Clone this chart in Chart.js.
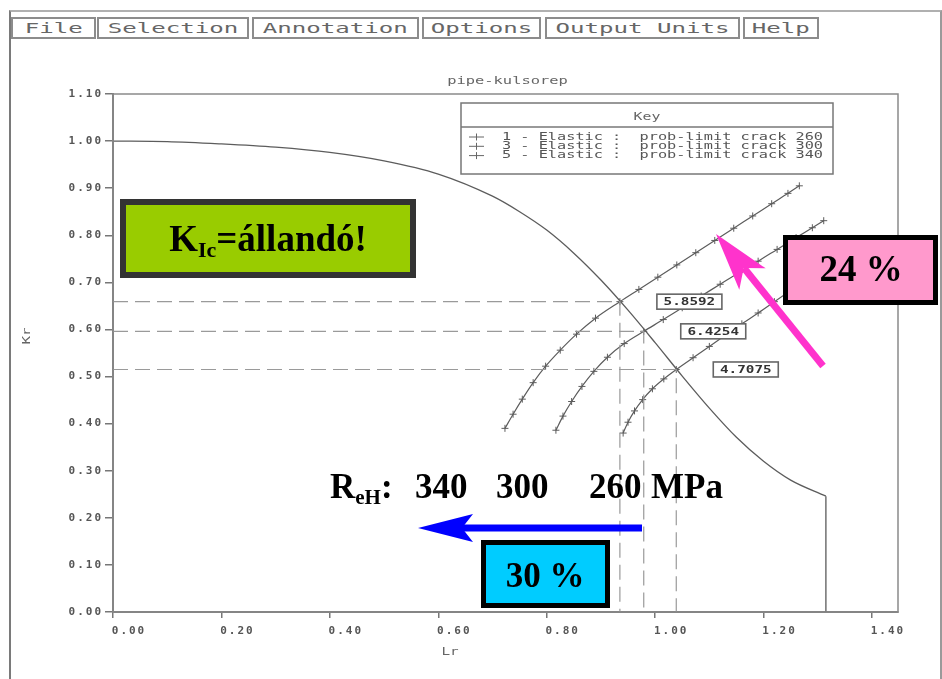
<!DOCTYPE html>
<html>
<head>
<meta charset="utf-8">
<script src="https://cdn.jsdelivr.net/npm/chart.js@4/dist/chart.umd.min.js"></script>
<style>
  html, body { margin: 0; padding: 0; background: #fff; }
  #wrap { position: relative; width: 942px; height: 679px; overflow: hidden; background: #fff; }
  #frame { position: absolute; left: 9px; top: 10px; width: 929px; height: 700px;
           border-left: 2px solid #7a7a7a; border-top: 2px solid #b0b0b0; border-right: 2px solid #9a9a9a; }
  canvas { position: absolute; left: 0; top: 0; }
  .menu { position: absolute; top: 17px; height: 22px; border: 2px solid #8c8c8c; box-sizing: border-box;
          display: flex; align-items: center; justify-content: center; overflow: hidden; background: #fff; }
  .menu span { display: inline-block; font: 14px "DejaVu Sans Mono", monospace; color: #666;
               transform: scaleX(1.72); white-space: pre; }
  svg { position: absolute; left: 0; top: 0; }
  svg text { font-family: "Liberation Serif", "Times New Roman", serif; font-weight: bold; fill: #000; }
</style>
</head>
<body>
<div id="wrap">
  <div id="frame"></div>
  <div class="menu" style="left:11px;width:85px"><span>File</span></div>
  <div class="menu" style="left:97px;width:152px"><span>Selection</span></div>
  <div class="menu" style="left:252px;width:167px"><span>Annotation</span></div>
  <div class="menu" style="left:422px;width:119px"><span>Options</span></div>
  <div class="menu" style="left:545px;width:195px"><span>Output Units</span></div>
  <div class="menu" style="left:743px;width:76px"><span>Help</span></div>
  <canvas id="c" width="942" height="679"></canvas>
  <svg width="942" height="679" viewBox="0 0 942 679">
    <!-- constant toughness note -->
    <rect x="123" y="202" width="290" height="73" fill="#99cc00" stroke="#333" stroke-width="6"/>
    <text x="268" y="251" text-anchor="middle" font-size="37">K<tspan font-size="22" dy="6">Ic</tspan><tspan dy="-6">=állandó!</tspan></text>

    <!-- 24 % box and arrow -->
    <rect x="785.5" y="237.5" width="150" height="65" fill="#ff99cc" stroke="#000" stroke-width="5"/>
    <text x="861" y="281" text-anchor="middle" font-size="37">24 %</text>
    <line x1="823" y1="366" x2="744" y2="268" stroke="#ff33cc" stroke-width="7"/>
    <polygon points="716,234 765.7,268.3 743.7,268.1 739.3,289.7" fill="#ff33cc"/>

    <!-- yield strength row -->
    <text x="330" y="498" font-size="35">R<tspan font-size="21" dy="6">eH</tspan><tspan dy="-6">:</tspan></text>
    <text x="415" y="498" font-size="35">340</text>
    <text x="496" y="498" font-size="35">300</text>
    <text x="589" y="498" font-size="35">260</text>
    <text x="651" y="498" font-size="35">MPa</text>

    <!-- 30 % arrow and box -->
    <rect x="462" y="524.5" width="180" height="7" fill="#0000ff"/>
    <polygon points="418,528 473,514 462,528 473,542" fill="#0000ff"/>
    <rect x="483.5" y="542.5" width="124" height="63" fill="#00ccff" stroke="#000" stroke-width="5"/>
    <text x="545" y="587" text-anchor="middle" font-size="35">30 %</text>
  </svg>
</div>
<script>
// Failure assessment curve (Lr, Kr) and its plastic-collapse cut-off
const fadLr = [0, 0.10, 0.20, 0.30, 0.40, 0.50, 0.60, 0.70, 0.75, 0.80, 0.85, 0.90, 0.95, 1.00, 1.05, 1.10, 1.15, 1.20, 1.25, 1.315];
const fadKr = [1.000, 0.999, 0.994, 0.987, 0.976, 0.958, 0.930, 0.883, 0.850, 0.811, 0.762, 0.705, 0.641, 0.572, 0.501, 0.433, 0.371, 0.320, 0.280, 0.246];

// Assessment loci for the limiting crack at three yield strengths
const crack260Lr = [0.941, 0.950, 0.962, 0.977, 0.995, 1.016, 1.039, 1.070, 1.100, 1.130, 1.160, 1.190, 1.220, 1.250, 1.280, 1.305];
const crack260Kr = [0.380, 0.403, 0.427, 0.451, 0.474, 0.495, 0.515, 0.540, 0.564, 0.588, 0.612, 0.635, 0.659, 0.683, 0.707, 0.726];
const crack300Lr = [0.817, 0.830, 0.846, 0.865, 0.887, 0.912, 0.943, 0.979, 1.015, 1.050, 1.085, 1.120, 1.155, 1.190, 1.225, 1.260, 1.290, 1.311];
const crack300Kr = [0.386, 0.416, 0.447, 0.479, 0.511, 0.541, 0.570, 0.596, 0.621, 0.646, 0.671, 0.696, 0.721, 0.745, 0.770, 0.795, 0.816, 0.831];
const crack340Lr = [0.723, 0.738, 0.755, 0.775, 0.798, 0.825, 0.855, 0.890, 0.935, 0.970, 1.005, 1.040, 1.075, 1.110, 1.145, 1.180, 1.215, 1.245, 1.266];
const crack340Kr = [0.390, 0.420, 0.452, 0.487, 0.522, 0.556, 0.590, 0.624, 0.659, 0.685, 0.711, 0.737, 0.763, 0.789, 0.815, 0.841, 0.867, 0.889, 0.905];

const seriesNames = ['1 - Elastic :  prob-limit crack 260', '3 - Elastic :  prob-limit crack 300', '5 - Elastic :  prob-limit crack 340'];

// Critical points (intersection with the assessment curve), top curve first
const critLr = [0.935, 0.979, 1.039];
const critKr = [0.659, 0.596, 0.515];
const critText = ['5.8592', '6.4254', '4.7075'];

const chartTitle = 'pipe-kulsorep';
const xTitle = 'Lr';
const yTitle = 'Kr';

const MONO = '"DejaVu Sans Mono", monospace';
const GRAY = '#5c5c5c';
const toXY = (xs, ys) => xs.map((x, i) => ({ x: x, y: ys[i] }));

const lineStyle = { showLine: true, borderColor: GRAY, borderWidth: 1.3, pointRadius: 0, fill: false };
const crackStyle = { showLine: true, borderColor: GRAY, borderWidth: 1.2, fill: false,
  pointStyle: 'cross', pointRadius: 3.5, pointBorderColor: GRAY, pointBorderWidth: 1, cubicInterpolationMode: 'monotone' };

// dashed guides first so the curves sit on top of them
const datasets = critLr.map((lr, i) => ({
  label: 'crit' + i, showLine: true, fill: false, pointRadius: 0,
  borderColor: '#9a9a9a', borderWidth: 1.2, borderDash: [15, 7], tension: 0,
  data: [{ x: 0, y: critKr[i] }, { x: lr, y: critKr[i] }, { x: lr, y: 0 }]
}));
datasets.push(
  Object.assign({ label: 'fad', data: toXY(fadLr, fadKr), cubicInterpolationMode: 'monotone' }, lineStyle),
  Object.assign({ label: 'cutoff', data: [
      { x: fadLr[fadLr.length - 1], y: fadKr[fadKr.length - 1] },
      { x: fadLr[fadLr.length - 1], y: 0 }] }, lineStyle),
  Object.assign({ label: seriesNames[0], key: true, data: toXY(crack260Lr, crack260Kr) }, crackStyle),
  Object.assign({ label: seriesNames[1], key: true, data: toXY(crack300Lr, crack300Kr) }, crackStyle),
  Object.assign({ label: seriesNames[2], key: true, data: toXY(crack340Lr, crack340Kr) }, crackStyle)
);

function stretchText(ctx, txt, x, y, size, align, sx, color, weight) {
  ctx.save();
  ctx.font = (weight || '') + ' ' + size + 'px ' + MONO;
  ctx.fillStyle = color || '#555';
  ctx.textBaseline = 'middle';
  ctx.translate(x, y);
  ctx.scale(sx, 1);
  ctx.textAlign = align;
  ctx.fillText(txt, 0, 0);
  ctx.restore();
}

const decor = {
  id: 'decor',
  beforeDraw(chart) { chart.ctx.letterSpacing = '2px'; },
  afterDraw(chart) {
    const ctx = chart.ctx;
    ctx.letterSpacing = '0px';
    const a = chart.chartArea;
    const xs = chart.scales.x, ys = chart.scales.y;

    // plot frame
    ctx.save();
    ctx.strokeStyle = '#8a8a8a';
    ctx.lineWidth = 1.5;
    ctx.strokeRect(a.left, a.top, a.right - a.left, a.bottom - a.top);
    ctx.restore();

    // titles
    stretchText(ctx, chartTitle, (a.left + a.right) / 2 + 2, 81, 11, 'center', 1.4, '#666');
    stretchText(ctx, xTitle, 450, 652, 11, 'center', 1.3, '#666');
    ctx.save();
    ctx.translate(27, 336);
    ctx.rotate(-Math.PI / 2);
    stretchText(ctx, yTitle, 0, 0, 11, 'center', 1.3, '#666');
    ctx.restore();

    // key box
    const kx = 461, ky = 103, kw = 372, kh = 71;
    ctx.save();
    ctx.fillStyle = '#fff';
    ctx.fillRect(kx, ky, kw, kh);
    ctx.strokeStyle = '#777';
    ctx.lineWidth = 1.5;
    ctx.strokeRect(kx, ky, kw, kh);
    ctx.beginPath();
    ctx.moveTo(kx, ky + 24);
    ctx.lineTo(kx + kw, ky + 24);
    ctx.stroke();
    ctx.restore();
    stretchText(ctx, 'Key', kx + kw / 2, ky + 14, 11, 'center', 1.35, '#666');
    const keyed = chart.data.datasets.filter(d => d.key);
    keyed.forEach((d, i) => {
      const yy = ky + 34 + i * 9.3;
      ctx.save();
      ctx.strokeStyle = '#666';
      ctx.lineWidth = 1;
      ctx.beginPath();
      ctx.moveTo(kx + 8, yy); ctx.lineTo(kx + 23, yy);
      ctx.moveTo(kx + 15.5, yy - 3.5); ctx.lineTo(kx + 15.5, yy + 3.5);
      ctx.stroke();
      ctx.restore();
      stretchText(ctx, d.label, kx + 41, yy, 11, 'left', 1.385, '#555');
    });

    // critical value tags
    critLr.forEach((lr, i) => {
      const px = xs.getPixelForValue(lr) + 37;
      const py = ys.getPixelForValue(critKr[i]);
      ctx.save();
      ctx.fillStyle = '#fff';
      ctx.fillRect(px, py - 7.5, 65, 15);
      ctx.strokeStyle = '#666';
      ctx.lineWidth = 1.6;
      ctx.strokeRect(px, py - 7.5, 65, 15);
      ctx.restore();
      stretchText(ctx, critText[i], px + 32.5, py + 0.5, 11, 'center', 1.3, '#333', 'bold');
    });
  }
};

const tickFont = { family: MONO, size: 11, weight: 'bold' };

new Chart(document.getElementById('c'), {
  type: 'scatter',
  data: { datasets: datasets },
  options: {
    responsive: false,
    animation: false,
    events: [],
    layout: { padding: { top: 94, right: 44, left: 0, bottom: 0 } },
    plugins: { legend: { display: false }, title: { display: false }, tooltip: { enabled: false } },
    scales: {
      x: {
        type: 'linear', min: 0, max: 1.448,
        afterFit: s => { s.height = 67; },
        ticks: { stepSize: 0.2, includeBounds: false, autoSkip: false, maxRotation: 0,
          labelOffset: 16, padding: 7, color: '#555', font: tickFont,
          callback: v => v.toFixed(2) },
        grid: { display: true, drawOnChartArea: false, drawTicks: true, tickLength: 6, color: '#777', lineWidth: 1.5 },
        border: { display: true, color: '#777', width: 2 }
      },
      y: {
        type: 'linear', min: 0, max: 1.1,
        afterFit: s => { s.width = 113; },
        ticks: { stepSize: 0.1, includeBounds: false, autoSkip: false, padding: 2,
          color: '#555', font: tickFont, callback: v => v.toFixed(2) },
        grid: { display: true, drawOnChartArea: false, drawTicks: true, tickLength: 8, color: '#777', lineWidth: 1.5 },
        border: { display: true, color: '#777', width: 2 }
      }
    }
  },
  plugins: [decor]
});
</script>
</body>
</html>
